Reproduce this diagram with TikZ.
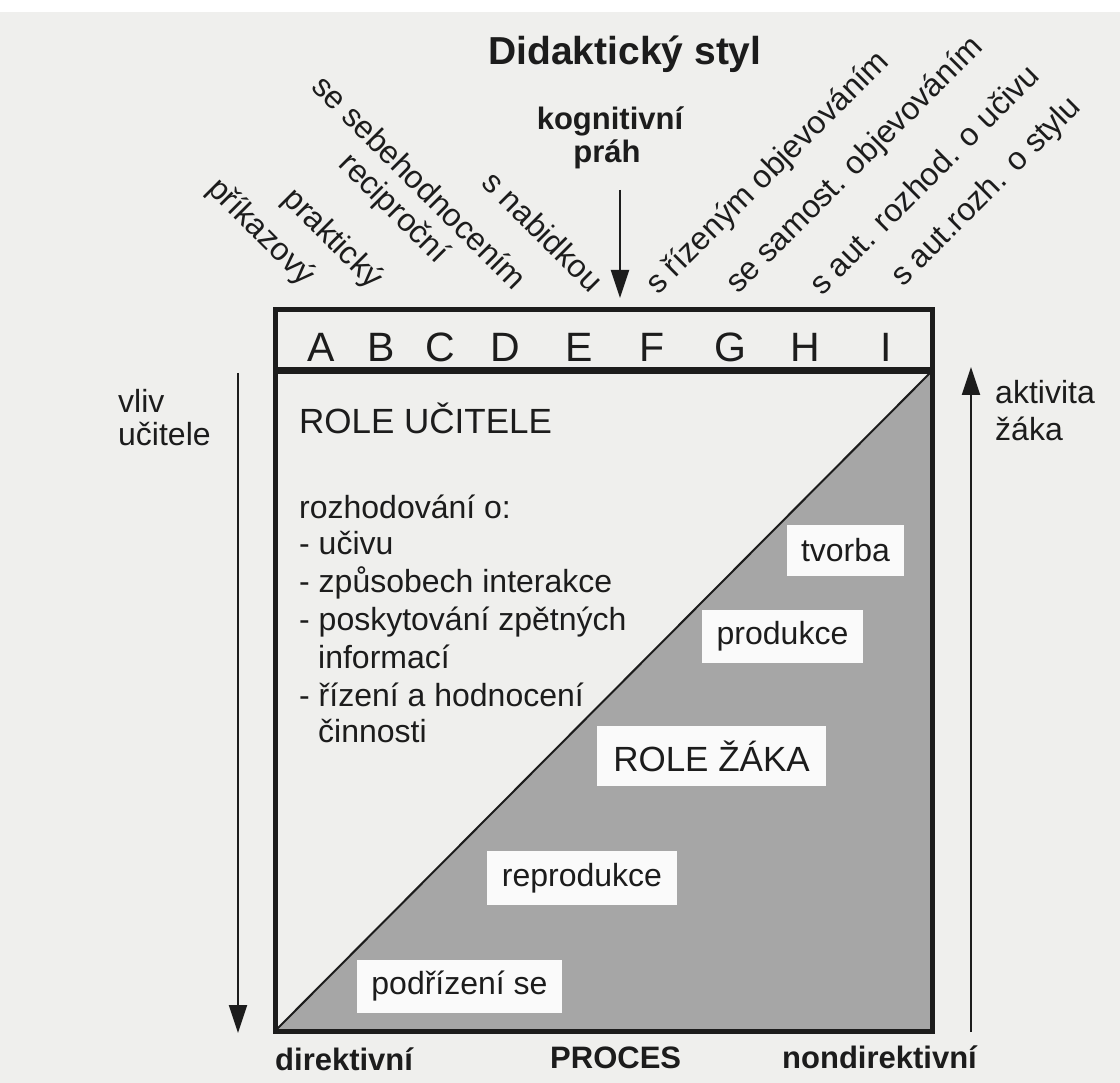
\documentclass[tikz,border=0pt]{standalone}
\usepackage{fontspec}
\setmainfont{Liberation Sans}
\usetikzlibrary{arrows.meta}
\definecolor{paper}{RGB}{239,239,237}
\definecolor{greyfill}{RGB}{166,166,166}
\definecolor{ink}{RGB}{28,28,28}
\definecolor{boxw}{RGB}{250,250,250}
\newcommand\fsz[2]{\fontsize{#1}{#2}\selectfont}
\begin{document}
\begin{tikzpicture}[x=1pt,y=-1pt,
  txt/.style={inner sep=0pt, text=ink, font=\fsz{32}{38}},
  lbl/.style={txt, anchor=base west},
  btxt/.style={inner sep=0pt, text=ink, font=\bfseries\fsz{31}{36}},
  rlab/.style={txt, rotate=45, anchor=base west},
  llab/.style={txt, rotate=-45, anchor=base east},
  letter/.style={inner sep=0pt, text=ink, anchor=base, font=\fsz{41}{41}},
  wbox/.style={fill=boxw, inner sep=0pt, text=ink, font=\fsz{32}{38}},
  arr/.style={line width=2pt, draw=ink, -{Triangle[length=28pt,width=18pt]}},
  frame/.style={line width=5pt, draw=ink}
]
% page
\fill[paper] (0,0) rectangle (1120,1083);
\fill[white] (0,0) rectangle (1120,12);

% main frame
\coordinate (tl) at (275,310);
\coordinate (br) at (932,1031);
\coordinate (bl) at (275,1031);
\coordinate (hl) at (275,371);
\coordinate (hr) at (932,371);
\fill[greyfill] (bl) -- (hr) -- (br) -- cycle;
\draw[line width=2pt, draw=ink] (bl) -- (hr);
\draw[frame] (tl) rectangle (br);
\draw[line width=7pt, draw=ink] (hl) -- (hr);

% column letters
\foreach \l/\x in {A/321,B/381,C/440,D/505,E/579,F/652,G/730,H/805,I/886}
  \node[letter] (L\l) at (\x,362) {\l};

% title and threshold
\node[inner sep=0pt, text=ink, anchor=base, font=\bfseries\fsz{39}{39}] (title) at (625,65) {Didaktický styl};
\node[btxt, anchor=base] (kog) at (610,130) {kognitivní};
\node[btxt, anchor=base] (prah) at (607,163) {práh};
\coordinate (kpA) at (620,190);
\coordinate (kpB) at (620,298);
\draw[arr] (kpA) -- (kpB);

% rotated style labels, left group
\node[llab] (sA) at (303,287) {příkazový};
\node[llab] (sB) at (371,290) {praktický};
\node[llab] (sC) at (437,265) {reciproční};
\node[llab] (sD) at (514,292) {se sebehodnocením};
\node[llab] (sE) at (590,294) {s nabidkou};
% right group
\node[rlab] (sF) at (658,296) {s řízeným objevováním};
\node[rlab] (sG) at (738,295) {se samost. objevováním};
\node[rlab] (sH) at (822,297) {s aut. rozhod. o učivu};
\node[rlab] (sI) at (903,288) {s aut.rozh. o stylu};

% side axes
\coordinate (vtop) at (238,373);
\coordinate (vbot) at (238,1033);
\draw[arr] (vtop) -- (vbot);
\node[lbl] (vliv) at (118,413) {vliv};
\node[lbl] (ucitele) at (118,446) {učitele};

\coordinate (abot) at (971,1032);
\coordinate (atop) at (971,367);
\draw[arr] (abot) -- (atop);
\node[lbl] (aktivita) at (995,403) {aktivita};
\node[lbl] (zaka) at (995,440) {žáka};

% teacher role
\node[lbl, font=\fsz{35}{40}] (roleU) at (299,433) {ROLE UČITELE};
\node[lbl] (r1) at (299,518) {rozhodování o:};
\node[lbl] (r2) at (299,554) {- učivu};
\node[lbl] (r3) at (299,592) {- způsobech interakce};
\node[lbl] (r4) at (299,630) {- poskytování zpětných};
\node[lbl] (r5) at (318,668) {informací};
\node[lbl] (r6) at (299,706) {- řízení a hodnocení};
\node[lbl] (r7) at (318,742) {činnosti};

% pupil role boxes
\node[wbox, minimum width=117pt, minimum height=51pt] (tvorba) at (845.5,550.5) {tvorba};
\node[wbox, minimum width=161pt, minimum height=53pt] (produkce) at (782.5,636.5) {produkce};
\node[wbox, minimum width=229pt, minimum height=60pt, font=\fsz{35}{40}] (roleZ) at (711.5,756) {ROLE ŽÁKA};
\node[wbox, minimum width=190pt, minimum height=54pt] (reprodukce) at (582,878) {reprodukce};
\node[wbox, minimum width=205pt, minimum height=53pt] (podrizeni) at (459.5,986.5) {podřízení se};

% bottom labels
\node[btxt, anchor=base west] (dir) at (275,1070) {direktivní};
\node[btxt, anchor=base west] (proces) at (550,1068) {PROCES};
\node[btxt, anchor=base west] (nondir) at (782,1068) {nondirektivní};
\end{tikzpicture}
\end{document}
